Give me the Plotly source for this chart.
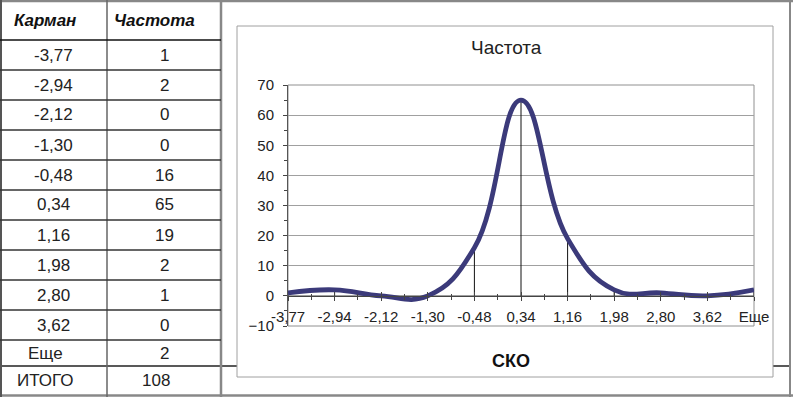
import plotly.graph_objects as go

# ---- data ----
bins = ["-3,77", "-2,94", "-2,12", "-1,30", "-0,48", "0,34", "1,16", "1,98", "2,80", "3,62", "Еще"]
freq = [1, 2, 0, 0, 16, 65, 19, 2, 1, 0, 2]
total_label = "ИТОГО"
col_headers = ["Карман", "Частота"]
chart_title = "Частота"
x_title = "СКО"
y_ticks = [-10, 0, 10, 20, 30, 40, 50, 60, 70]

W, H = 793, 397
FONT = "Liberation Sans, Arial, sans-serif"


def X(px):
    return px / W


def Y(py):
    return 1 - py / H


idx = list(range(len(bins)))

fig = go.Figure()

# main smoothed line with drop lines (error bars down to zero)
fig.add_trace(go.Scatter(
    x=idx, y=freq, mode="lines",
    line=dict(color="#3b3a7a", width=4.8, shape="spline", smoothing=1.25),
    error_y=dict(type="data", symmetric=False, array=[0] * len(freq), arrayminus=freq,
                 color="#111111", thickness=1, width=0),
    hoverinfo="x+y", showlegend=False,
))
# invisible trace to anchor the inner-tick axis
fig.add_trace(go.Scatter(
    x=idx, y=freq, xaxis="x2", mode="lines", line=dict(width=0), opacity=0,
    hoverinfo="skip", showlegend=False,
))

x_dom = [X(288), X(754)]
y_dom = [Y(326), Y(85)]
x_pos = Y(296)

fig.update_layout(
    width=W, height=H,
    margin=dict(l=0, r=0, t=0, b=0, pad=0, autoexpand=False),
    paper_bgcolor="white", plot_bgcolor="rgba(0,0,0,0)",
    font=dict(family=FONT, size=15, color="#222222"),
    xaxis=dict(
        domain=x_dom, range=[0, len(bins) - 1], anchor="free", position=x_pos, automargin=False,
        tickmode="array", tickvals=idx, ticktext=bins,
        ticks="outside", ticklen=4, tickcolor="#444", tickwidth=1,
        minor=dict(ticks="outside", dtick=0.5, tick0=0, ticklen=3, tickcolor="#444"),
        showline=True, linecolor="#444", linewidth=1,
        showgrid=False, zeroline=False, ticklabelstandoff=3,
        tickfont=dict(size=15, family=FONT, color="#222"),
    ),
    xaxis2=dict(
        domain=x_dom, range=[0, len(bins) - 1], overlaying="x", anchor="free", position=x_pos,
        automargin=False,
        tickmode="array", tickvals=idx, ticks="inside", ticklen=4, tickcolor="#444",
        minor=dict(ticks="inside", dtick=0.5, tick0=0, ticklen=2, tickcolor="#444"),
        showticklabels=False, showline=False, showgrid=False, zeroline=False,
    ),
    yaxis=dict(
        domain=y_dom, range=[-10, 70], tickmode="array", tickvals=y_ticks, automargin=False,
        ticks="outside", ticklen=4, tickcolor="#444",
        minor=dict(ticks="outside", dtick=5, tick0=0, ticklen=3, tickcolor="#444"),
        showline=True, linecolor="#555", linewidth=1,
        showgrid=True, gridcolor="#a0a0a0", gridwidth=1, zeroline=False,
        ticklabelstandoff=6,
        tickfont=dict(size=15, family=FONT, color="#222"),
    ),
)

shapes = []
# full-width line between "Еще" and "ИТОГО" rows (behind chart box)
shapes.append(dict(type="line", xref="paper", yref="paper", x0=X(0), x1=X(791), y0=Y(366), y1=Y(366),
                   line=dict(color="#222", width=1.5), layer="below"))
# chart box
shapes.append(dict(type="rect", xref="paper", yref="paper", x0=X(237), x1=X(773), y0=Y(377), y1=Y(26),
                   line=dict(color="#a0a0a0", width=1), fillcolor="white", layer="below"))
# plot frame
shapes.append(dict(type="rect", xref="x domain", yref="y domain", x0=0, x1=1, y0=0, y1=1,
                   line=dict(color="#909090", width=1), layer="below"))
# outer borders
shapes.append(dict(type="line", xref="paper", yref="paper", x0=X(0), x1=X(793), y0=Y(1), y1=Y(1),
                   line=dict(color="#888", width=2.5)))
shapes.append(dict(type="line", xref="paper", yref="paper", x0=X(0), x1=X(793), y0=Y(395.5), y1=Y(395.5),
                   line=dict(color="#888", width=2.5)))
shapes.append(dict(type="line", xref="paper", yref="paper", x0=X(1), x1=X(1), y0=Y(0), y1=Y(397),
                   line=dict(color="#555", width=2)))
shapes.append(dict(type="line", xref="paper", yref="paper", x0=X(790), x1=X(790), y0=Y(0), y1=Y(397),
                   line=dict(color="#888", width=2)))
# table column lines
shapes.append(dict(type="line", xref="paper", yref="paper", x0=X(107), x1=X(107), y0=Y(0), y1=Y(397),
                   line=dict(color="#666", width=1.5)))
shapes.append(dict(type="line", xref="paper", yref="paper", x0=X(221), x1=X(221), y0=Y(0), y1=Y(397),
                   line=dict(color="#888", width=2.5)))

# table row boundaries
row_bounds = [40 + 30 * i for i in range(len(bins))] + [366, 395]
for i, yb in enumerate(row_bounds[:-2]):
    shapes.append(dict(type="line", xref="paper", yref="paper", x0=X(0), x1=X(221), y0=Y(yb), y1=Y(yb),
                       line=dict(color="#111" if i == 0 else "#333", width=1.5)))
fig.update_layout(shapes=shapes)

ann = []
# headers
ann.append(dict(x=X(12), y=Y(21), xref="paper", yref="paper", xanchor="left", yanchor="middle",
                text="<b><i>" + col_headers[0] + "</i></b>", showarrow=False,
                font=dict(size=17, family=FONT, color="#111")))
ann.append(dict(x=X(112), y=Y(21), xref="paper", yref="paper", xanchor="left", yanchor="middle",
                text="<b><i>" + col_headers[1] + "</i></b>", showarrow=False,
                font=dict(size=17, family=FONT, color="#111")))
# table rows
for i, (b, f) in enumerate(zip(bins, freq)):
    top, bot = row_bounds[i], row_bounds[i + 1]
    yc = Y((top + bot) / 2)
    lx = 45 if i == len(bins) - 1 else 53
    ann.append(dict(x=X(lx), y=yc, xref="paper", yref="paper", xanchor="center", yanchor="middle",
                    text=b, showarrow=False, font=dict(size=17, family=FONT, color="#222")))
    ann.append(dict(x=X(164), y=yc, xref="paper", yref="paper", xanchor="center", yanchor="middle",
                    text=str(f), showarrow=False, font=dict(size=17, family=FONT, color="#222")))
# total row
yc = Y((row_bounds[-2] + row_bounds[-1]) / 2)
ann.append(dict(x=X(45), y=yc, xref="paper", yref="paper", xanchor="center", yanchor="middle",
                text=total_label, showarrow=False, font=dict(size=17, family=FONT, color="#222")))
ann.append(dict(x=X(156), y=yc, xref="paper", yref="paper", xanchor="center", yanchor="middle",
                text=str(sum(freq)), showarrow=False, font=dict(size=17, family=FONT, color="#222")))
# chart title and axis title
ann.append(dict(x=X(506), y=Y(47), xref="paper", yref="paper", xanchor="center", yanchor="middle",
                text=chart_title, showarrow=False, font=dict(size=19, family=FONT, color="#222")))
ann.append(dict(x=X(511), y=Y(361), xref="paper", yref="paper", xanchor="center", yanchor="middle",
                text="<b>" + x_title + "</b>", showarrow=False, font=dict(size=18, family=FONT, color="#111")))
fig.update_layout(annotations=ann)

fig.write_html("out.html", config={"displayModeBar": False},
               post_script="document.body.style.margin='0';document.documentElement.style.overflow='hidden';")
